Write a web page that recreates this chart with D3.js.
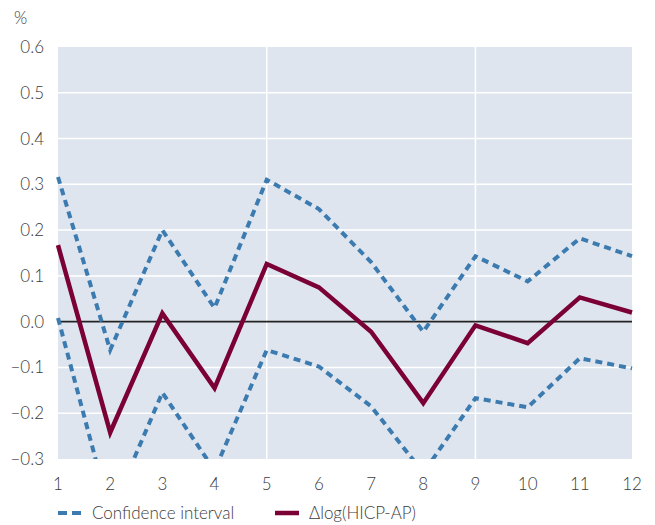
<!DOCTYPE html>
<html>
<head>
<meta charset="utf-8">
<script src="https://cdn.jsdelivr.net/npm/d3@7"></script>
<style>
  body { margin: 0; background: #fff; }
  text { font-family: Lato, "Open Sans", sans-serif; font-weight: 300; fill: #3c3c3c; }
</style>
</head>
<body>
<svg id="chart" width="655" height="525"></svg>
<script>
const periods = [1, 2, 3, 4, 5, 6, 7, 8, 9, 10, 11, 12];
const response = [0.167, -0.242, 0.018, -0.145, 0.126, 0.075, -0.022, -0.178, -0.008, -0.047, 0.053, 0.02];
const upperCI = [0.316, -0.062, 0.2, 0.03, 0.31, 0.246, 0.13, -0.022, 0.143, 0.088, 0.182, 0.143];
const lowerCI = [0.008, -0.42, -0.155, -0.325, -0.062, -0.098, -0.185, -0.33, -0.167, -0.187, -0.08, -0.102];
const yTicks = [-0.3, -0.2, -0.1, 0.0, 0.1, 0.2, 0.3, 0.4, 0.5, 0.6];
const xGridTicks = [5, 9];
const legendLabels = ["Confidence interval", "\u0394log(HICP-AP)"];

const svg = d3.select("#chart");
const m = { left: 58, right: 632, top: 47, bottom: 459 };
const x = d3.scaleLinear().domain([1, 12]).range([m.left, m.right]);
const y = d3.scaleLinear().domain([-0.3, 0.6]).range([m.bottom, m.top]);

const blue = "#3b7bb0", crimson = "#7a0036";

svg.append("rect").attr("x", m.left).attr("y", m.top)
  .attr("width", m.right - m.left).attr("height", m.bottom - m.top)
  .attr("fill", "#dfe5ee");

// horizontal grid
svg.append("g").selectAll("line").data(yTicks.filter(d => d !== 0 && d !== -0.3 && d !== 0.6)).join("line")
  .attr("x1", m.left).attr("x2", m.right)
  .attr("y1", d => y(d)).attr("y2", d => y(d))
  .attr("stroke", "#fff").attr("stroke-width", 1.5);
// vertical grid
svg.append("g").selectAll("line").data(xGridTicks).join("line")
  .attr("x1", d => x(d)).attr("x2", d => x(d))
  .attr("y1", m.top).attr("y2", m.bottom)
  .attr("stroke", "#fff").attr("stroke-width", 1.5);

// zero line
svg.append("line").attr("x1", m.left).attr("x2", m.right)
  .attr("y1", y(0)).attr("y2", y(0)).attr("stroke", "#222").attr("stroke-width", 1.8);

// clip
svg.append("clipPath").attr("id", "clip").append("rect")
  .attr("x", m.left - 5).attr("y", m.top).attr("width", m.right - m.left + 10).attr("height", m.bottom - m.top);

const line = d3.line().x((d, i) => x(periods[i])).y(d => y(d));
const g = svg.append("g").attr("clip-path", "url(#clip)");
[upperCI, lowerCI].forEach(s => {
  g.append("path").attr("d", line(s)).attr("fill", "none")
    .attr("stroke", blue).attr("stroke-width", 4).attr("stroke-dasharray", "7,5");
});
g.append("path").attr("d", line(response)).attr("fill", "none")
  .attr("stroke", crimson).attr("stroke-width", 4.5).attr("stroke-linejoin", "miter");

// y axis labels
const fmt = d => (d < 0 ? "\u2013" + Math.abs(d).toFixed(1) : d.toFixed(1));
svg.append("g").selectAll("text").data(yTicks).join("text")
  .attr("x", 44).attr("y", d => y(d)).attr("dy", "0.35em")
  .attr("text-anchor", "end").attr("font-size", 17).text(fmt);
svg.append("text").attr("x", 14).attr("y", 24).attr("font-size", 17).text("%");

// x axis labels
svg.append("g").selectAll("text").data(periods).join("text")
  .attr("x", d => x(d)).attr("y", 490)
  .attr("text-anchor", "middle").attr("font-size", 17).text(d => d);

// legend
svg.append("line").attr("x1", 58).attr("x2", 82).attr("y1", 513).attr("y2", 513)
  .attr("stroke", blue).attr("stroke-width", 4).attr("stroke-dasharray", "9,5");
svg.append("text").attr("x", 92).attr("y", 519).attr("font-size", 17).text(legendLabels[0]);
svg.append("line").attr("x1", 275).attr("x2", 299).attr("y1", 513).attr("y2", 513)
  .attr("stroke", crimson).attr("stroke-width", 4.5);
svg.append("text").attr("x", 309).attr("y", 519).attr("font-size", 17).text(legendLabels[1]);
</script>
</body>
</html>
